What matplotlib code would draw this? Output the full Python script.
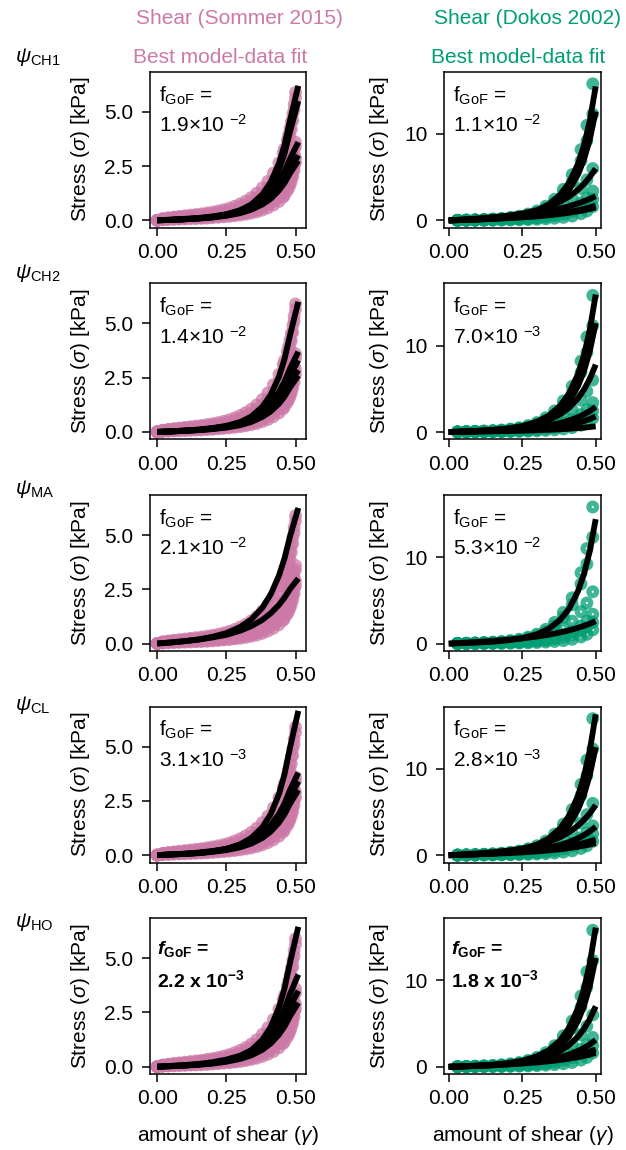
import matplotlib
matplotlib.use("Agg")
import matplotlib.pyplot as plt

plt.rcParams.update({
    "font.family": ["Liberation Sans", "DejaVu Sans"],
    "font.size": 15,
    "mathtext.fontset": "custom",
    "mathtext.rm": "Liberation Sans",
    "mathtext.it": "Liberation Sans:italic",
    "mathtext.bf": "Liberation Sans:bold",
    "mathtext.bfit": "Liberation Sans:italic:bold",
    "axes.linewidth": 1.1,
    "xtick.major.size": 6,
    "ytick.major.size": 6,
    "xtick.major.width": 1.1,
    "ytick.major.width": 1.1,
    "xtick.major.pad": 5,
    "ytick.major.pad": 6,
})

PINK = "#CC79A7"
GREEN = "#009E73"

# ---------------- data: Sommer 2015 shear (6 modes) ----------------
gamma_sommer = [0.00, 0.02, 0.04, 0.06, 0.08, 0.10, 0.12, 0.14, 0.16, 0.18, 0.20,
                0.22, 0.24, 0.26, 0.28, 0.30, 0.32, 0.34, 0.36, 0.38, 0.40, 0.42,
                0.44, 0.455, 0.46, 0.47, 0.475, 0.48, 0.485, 0.49, 0.495, 0.50]
sommer_fs = [0.00, 0.08, 0.12, 0.15, 0.18, 0.21, 0.24, 0.27, 0.30, 0.34, 0.38, 0.43,
             0.49, 0.56, 0.65, 0.76, 0.89, 1.05, 1.25, 1.50, 1.80, 2.18, 2.65, 3.10,
             3.30, 3.70, 3.95, 4.25, 4.55, 4.90, 5.35, 5.90]
sommer_fn = [0.00, 0.07, 0.10, 0.13, 0.15, 0.17, 0.20, 0.22, 0.25, 0.28, 0.31, 0.35,
             0.40, 0.46, 0.53, 0.62, 0.73, 0.87, 1.04, 1.26, 1.53, 1.87, 2.30, 2.75,
             2.95, 3.35, 3.60, 3.90, 4.20, 4.60, 5.10, 5.65]
sommer_sf = [0.00, 0.05, 0.08, 0.10, 0.12, 0.13, 0.15, 0.17, 0.19, 0.21, 0.24, 0.27,
             0.31, 0.35, 0.40, 0.47, 0.55, 0.65, 0.77, 0.92, 1.10, 1.33, 1.62, 1.90,
             2.02, 2.28, 2.43, 2.60, 2.80, 3.02, 3.30, 3.60]
sommer_nf = [0.00, 0.04, 0.07, 0.09, 0.10, 0.12, 0.13, 0.15, 0.17, 0.19, 0.21, 0.24,
             0.27, 0.31, 0.35, 0.41, 0.48, 0.57, 0.68, 0.81, 0.97, 1.18, 1.44, 1.70,
             1.81, 2.05, 2.20, 2.36, 2.55, 2.78, 3.05, 3.40]
sommer_sn = [0.00, 0.03, 0.05, 0.07, 0.08, 0.09, 0.10, 0.11, 0.12, 0.14, 0.16, 0.18,
             0.20, 0.23, 0.26, 0.30, 0.35, 0.41, 0.49, 0.59, 0.71, 0.86, 1.06, 1.27,
             1.36, 1.57, 1.70, 1.85, 2.03, 2.25, 2.53, 2.88]
sommer_ns = [0.00, 0.02, 0.03, 0.04, 0.05, 0.06, 0.07, 0.08, 0.09, 0.10, 0.12, 0.14,
             0.16, 0.18, 0.21, 0.24, 0.28, 0.33, 0.39, 0.47, 0.57, 0.70, 0.87, 1.06,
             1.15, 1.35, 1.48, 1.62, 1.80, 2.02, 2.30, 2.65]

# ---------------- data: Dokos 2002 shear (6 modes) ----------------
gamma_dokos = [0.03, 0.06, 0.09, 0.12, 0.15, 0.18, 0.21, 0.24, 0.27, 0.30, 0.33,
               0.36, 0.39, 0.42, 0.45, 0.47, 0.49]
dokos_fs = [0.02, 0.05, 0.08, 0.12, 0.17, 0.24, 0.35, 0.50, 0.75, 1.10, 1.65, 2.45,
            3.60, 5.30, 8.20, 11.0, 15.8]
dokos_fn = [0.02, 0.04, 0.07, 0.10, 0.14, 0.20, 0.29, 0.42, 0.62, 0.92, 1.38, 2.05,
            3.05, 4.50, 6.90, 9.20, 12.3]
dokos_sf = [0.02, 0.04, 0.06, 0.09, 0.12, 0.17, 0.24, 0.33, 0.47, 0.66, 0.94, 1.32,
            1.85, 2.60, 3.70, 4.70, 6.00]
dokos_nf = [0.01, 0.02, 0.03, 0.05, 0.07, 0.09, 0.13, 0.18, 0.26, 0.36, 0.51, 0.72,
            1.01, 1.42, 2.02, 2.60, 3.40]
dokos_sn = [0.01, 0.02, 0.03, 0.04, 0.05, 0.07, 0.10, 0.14, 0.19, 0.27, 0.38, 0.53,
            0.74, 1.03, 1.48, 1.90, 2.45]
dokos_ns = [0.00, 0.01, 0.01, 0.02, 0.03, 0.04, 0.05, 0.07, 0.09, 0.13, 0.18, 0.25,
            0.35, 0.50, 0.78, 1.08, 1.60]

# ---------------- model fits ----------------
fit_gamma_sommer = [0, 0.05, 0.10, 0.15, 0.20, 0.25, 0.30, 0.34, 0.38, 0.41, 0.44, 0.46, 0.48, 0.51]
fit_gamma_dokos = [0, 0.05, 0.10, 0.15, 0.20, 0.25, 0.30, 0.34, 0.38, 0.41, 0.44, 0.46, 0.48, 0.50]

fit_sommer_ch1 = [
    [0, 0.02, 0.05, 0.10, 0.16, 0.27, 0.47, 0.73, 1.19, 1.75, 2.62, 3.46, 4.61, 6.20],
    [0, 0.02, 0.05, 0.09, 0.14, 0.24, 0.41, 0.65, 1.06, 1.56, 2.33, 3.07, 4.09, 5.50],
    [0, 0.03, 0.07, 0.11, 0.18, 0.28, 0.44, 0.64, 0.95, 1.30, 1.80, 2.26, 2.84, 3.60],
    [0, 0.03, 0.05, 0.09, 0.15, 0.23, 0.36, 0.53, 0.79, 1.08, 1.50, 1.88, 2.37, 3.00],
    [0, 0.02, 0.05, 0.08, 0.13, 0.21, 0.33, 0.49, 0.73, 0.99, 1.38, 1.72, 2.17, 2.75],
]
fit_sommer_ch2 = [
    [0, 0.02, 0.05, 0.09, 0.16, 0.26, 0.45, 0.71, 1.16, 1.70, 2.54, 3.35, 4.46, 6.00],
    [0, 0.03, 0.07, 0.11, 0.18, 0.28, 0.45, 0.66, 0.98, 1.34, 1.85, 2.32, 2.92, 3.70],
    [0, 0.03, 0.06, 0.10, 0.16, 0.25, 0.40, 0.59, 0.87, 1.19, 1.65, 2.07, 2.60, 3.30],
    [0, 0.02, 0.05, 0.09, 0.14, 0.22, 0.35, 0.51, 0.75, 1.03, 1.43, 1.79, 2.25, 2.85],
    [0, 0.02, 0.05, 0.08, 0.13, 0.20, 0.31, 0.46, 0.69, 0.94, 1.30, 1.63, 2.05, 2.60],
]
fit_sommer_ma = [
    [0, 0.05, 0.11, 0.19, 0.31, 0.48, 0.76, 1.11, 1.65, 2.26, 3.13, 3.92, 4.93, 6.25],
    [0, 0.05, 0.11, 0.18, 0.28, 0.40, 0.59, 0.80, 1.09, 1.39, 1.78, 2.11, 2.51, 3.00],
]
fit_sommer_cl = [
    [0, 0.03, 0.06, 0.10, 0.17, 0.29, 0.50, 0.79, 1.28, 1.88, 2.81, 3.72, 4.95, 6.65],
    [0, 0.03, 0.07, 0.12, 0.19, 0.29, 0.46, 0.67, 1.00, 1.37, 1.90, 2.38, 3.00, 3.80],
    [0, 0.03, 0.06, 0.10, 0.17, 0.26, 0.41, 0.60, 0.90, 1.23, 1.70, 2.13, 2.68, 3.40],
    [0, 0.03, 0.05, 0.09, 0.15, 0.23, 0.36, 0.53, 0.79, 1.08, 1.50, 1.88, 2.37, 3.00],
]
fit_sommer_ho = [
    [0, 0.03, 0.06, 0.10, 0.17, 0.28, 0.48, 0.76, 1.24, 1.82, 2.73, 3.60, 4.80, 6.45],
    [0, 0.04, 0.08, 0.13, 0.21, 0.33, 0.51, 0.75, 1.12, 1.54, 2.13, 2.66, 3.35, 4.25],
    [0, 0.03, 0.06, 0.11, 0.17, 0.27, 0.42, 0.62, 0.93, 1.27, 1.75, 2.19, 2.76, 3.50],
    [0, 0.02, 0.05, 0.09, 0.14, 0.23, 0.36, 0.52, 0.78, 1.07, 1.48, 1.85, 2.33, 2.95],
]

fit_dokos_ch1 = [
    [0, 0.06, 0.14, 0.24, 0.40, 0.68, 1.16, 1.84, 2.99, 4.38, 6.55, 8.66, 11.53, 15.5],
    [0, 0.05, 0.11, 0.20, 0.33, 0.55, 0.95, 1.49, 2.43, 3.56, 5.33, 7.04, 9.38, 12.6],
    [0, 0.11, 0.22, 0.37, 0.55, 0.81, 1.17, 1.59, 2.18, 2.77, 3.56, 4.22, 5.02, 6.0],
    [0, 0.10, 0.21, 0.34, 0.48, 0.66, 0.89, 1.11, 1.39, 1.65, 1.97, 2.21, 2.49, 2.8],
    [0, 0.06, 0.13, 0.21, 0.29, 0.40, 0.54, 0.68, 0.85, 1.00, 1.19, 1.34, 1.51, 1.7],
    [0, 0.06, 0.11, 0.18, 0.26, 0.35, 0.47, 0.60, 0.75, 0.89, 1.05, 1.18, 1.33, 1.5],
]
fit_dokos_ch2 = [
    [0, 0.06, 0.14, 0.25, 0.41, 0.69, 1.19, 1.88, 3.06, 4.50, 6.72, 8.88, 11.83, 15.9],
    [0, 0.05, 0.11, 0.20, 0.33, 0.55, 0.95, 1.49, 2.43, 3.56, 5.33, 7.04, 9.38, 12.6],
    [0, 0.07, 0.14, 0.24, 0.38, 0.60, 0.94, 1.38, 2.06, 2.82, 3.91, 4.89, 6.15, 7.8],
    [0, 0.05, 0.11, 0.18, 0.27, 0.39, 0.57, 0.77, 1.05, 1.34, 1.72, 2.04, 2.43, 2.9],
    [0, 0.03, 0.07, 0.11, 0.17, 0.24, 0.35, 0.48, 0.65, 0.83, 1.07, 1.27, 1.51, 1.8],
    [0, 0.02, 0.05, 0.08, 0.11, 0.15, 0.21, 0.26, 0.32, 0.38, 0.46, 0.51, 0.58, 0.65],
]
fit_dokos_ma = [
    [0, 0.06, 0.13, 0.22, 0.38, 0.63, 1.08, 1.71, 2.77, 4.07, 6.09, 8.05, 10.72, 14.4],
    [0, 0.10, 0.20, 0.31, 0.45, 0.61, 0.82, 1.03, 1.30, 1.54, 1.83, 2.05, 2.31, 2.6],
]
fit_dokos_cl = [
    [0, 0.07, 0.14, 0.25, 0.43, 0.71, 1.22, 1.93, 3.14, 4.61, 6.89, 9.11, 12.13, 16.3],
    [0, 0.05, 0.11, 0.20, 0.33, 0.55, 0.94, 1.48, 2.41, 3.54, 5.29, 6.98, 9.30, 12.5],
    [0, 0.10, 0.22, 0.35, 0.53, 0.78, 1.14, 1.54, 2.10, 2.68, 3.44, 4.08, 4.85, 5.8],
    [0, 0.06, 0.12, 0.20, 0.30, 0.44, 0.65, 0.88, 1.20, 1.53, 1.96, 2.32, 2.76, 3.3],
    [0, 0.07, 0.14, 0.22, 0.31, 0.43, 0.57, 0.71, 0.90, 1.06, 1.26, 1.42, 1.60, 1.8],
    [0, 0.05, 0.11, 0.17, 0.24, 0.33, 0.44, 0.56, 0.70, 0.83, 0.98, 1.10, 1.24, 1.4],
]
fit_dokos_ho = [
    [0, 0.06, 0.14, 0.25, 0.42, 0.70, 1.21, 1.91, 3.10, 4.55, 6.81, 9.00, 11.98, 16.1],
    [0, 0.05, 0.11, 0.20, 0.33, 0.55, 0.95, 1.49, 2.43, 3.56, 5.33, 7.04, 9.38, 12.6],
    [0, 0.06, 0.13, 0.22, 0.34, 0.54, 0.85, 1.24, 1.85, 2.53, 3.50, 4.39, 5.52, 7.0],
    [0, 0.05, 0.12, 0.19, 0.29, 0.42, 0.61, 0.82, 1.12, 1.43, 1.84, 2.18, 2.59, 3.1],
    [0, 0.07, 0.15, 0.24, 0.35, 0.47, 0.63, 0.79, 1.00, 1.18, 1.40, 1.58, 1.78, 2.0],
    [0, 0.06, 0.12, 0.19, 0.28, 0.38, 0.51, 0.64, 0.80, 0.95, 1.12, 1.26, 1.42, 1.6],
]

models = ["CH1", "CH2", "MA", "CL", "HO"]
gof_sommer = [(1.9, -2), (1.4, -2), (2.1, -2), (3.1, -3), (2.2, -3)]
gof_dokos = [(1.1, -2), (7.0, -3), (5.3, -2), (2.8, -3), (1.8, -3)]

sommer_data = [sommer_fs, sommer_fn, sommer_sf, sommer_nf, sommer_sn, sommer_ns]
dokos_data = [dokos_fs, dokos_fn, dokos_sf, dokos_nf, dokos_sn, dokos_ns]
sommer_fits = [fit_sommer_ch1, fit_sommer_ch2, fit_sommer_ma, fit_sommer_cl, fit_sommer_ho]
dokos_fits = [fit_dokos_ch1, fit_dokos_ch2, fit_dokos_ma, fit_dokos_cl, fit_dokos_ho]

W, H = 626, 1150
fig = plt.figure(figsize=(W / 100, H / 100), dpi=100)


def fx(px):
    return px / W


def fy(px):
    return 1 - px / H


row_tops = [71.7, 283.3, 494.9, 706.5, 918.1]
label_base = [61.5, 278.0, 494.0, 710.5, 927.0]  # baseline of the psi row labels
ax_h = 156
columns = [
    dict(x0=150, w=155.5, gamma=gamma_sommer, data=sommer_data, fit_gamma=fit_gamma_sommer,
         fits=sommer_fits, gof=gof_sommer, color=PINK, xlim=(-0.026, 0.536),
         ylim=(-0.34, 6.85), yticks=[0, 2.5, 5.0], yfmt="{:.1f}"),
    dict(x0=444, w=157, gamma=gamma_dokos, data=dokos_data, fit_gamma=fit_gamma_dokos,
         fits=dokos_fits, gof=gof_dokos, color=GREEN, xlim=(-0.016, 0.518),
         ylim=(-0.84, 17.2), yticks=[0, 10], yfmt="{:.0f}"),
]

for r, top in enumerate(row_tops):
    for c, col in enumerate(columns):
        ax = fig.add_axes([fx(col["x0"]), fy(top + ax_h), col["w"] / W, ax_h / H])
        ring = (c == 1 and models[r] == "MA")
        for ys in col["data"]:
            if ring:
                ax.scatter(col["gamma"], ys, s=30, facecolors="none", edgecolors=col["color"],
                           linewidths=3.8, alpha=0.75, zorder=2)
            else:
                ax.scatter(col["gamma"], ys, s=85, c=col["color"], edgecolors="none",
                           alpha=0.75, zorder=2)
        for ys in col["fits"][r]:
            ax.plot(col["fit_gamma"], ys, color="black", lw=4.2, solid_capstyle="butt", zorder=3)

        ax.set_xlim(*col["xlim"])
        ax.set_ylim(*col["ylim"])
        ax.set_xticks([0, 0.25, 0.5])
        ax.set_xticklabels(["0.00", "0.25", "0.50"])
        ax.set_yticks(col["yticks"])
        ax.set_yticklabels([col["yfmt"].format(v) for v in col["yticks"]])
        ax.set_ylabel(r"Stress ($\sigma$) [kPa]", labelpad=9)
        if r == len(row_tops) - 1:
            ax.set_xlabel(r"amount of shear ($\gamma$)", labelpad=11)

        m, e = col["gof"][r]
        if r < len(row_tops) - 1:
            ax.text(0.055, 0.81, r"f$_{\mathrm{GoF}}$ =", transform=ax.transAxes,
                    ha="left", va="baseline", fontsize=15)
            ax.text(0.055, 0.615, f"{m:.1f}×10 $^{{{e}}}$", transform=ax.transAxes,
                    ha="left", va="baseline", fontsize=15)
        else:
            ax.text(0.045, 0.77, r"$\mathbfit{f}_{\mathbf{GoF}}$ =", transform=ax.transAxes,
                    ha="left", va="baseline", fontsize=14, fontweight="bold")
            ax.text(0.045, 0.56, f"{m:.1f} x 10$^{{\\mathbf{{{e}}}}}$", transform=ax.transAxes,
                    ha="left", va="baseline", fontsize=14, fontweight="bold")

    fig.text(fx(15), fy(label_base[r]), r"$\psi_{\mathrm{" + models[r] + "}}$",
             ha="left", va="baseline", fontsize=15)

fig.text(fx(239), fy(23.5), "Shear (Sommer 2015)", color=PINK, ha="center", va="baseline", fontsize=15)
fig.text(fx(220), fy(63.3), "Best model-data fit", color=PINK, ha="center", va="baseline", fontsize=15)
fig.text(fx(527.5), fy(23.5), "Shear (Dokos 2002)", color=GREEN, ha="center", va="baseline", fontsize=15)
fig.text(fx(518.3), fy(63.3), "Best model-data fit", color=GREEN, ha="center", va="baseline", fontsize=15)

fig.savefig("out.png", dpi=100)
